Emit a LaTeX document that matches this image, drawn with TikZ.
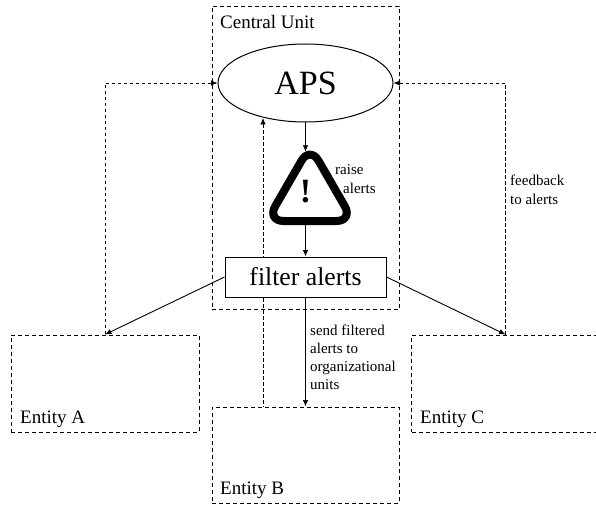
\documentclass[tikz,border=0pt]{standalone}
\usepackage{fontspec}
\setmainfont{Liberation Serif}
\usetikzlibrary{arrows.meta,shapes}

\begin{document}
\begin{tikzpicture}[x=1pt, y=-1pt, >={Latex[length=6.5pt,width=5.5pt]},
main node/.style={draw, line width=1pt, fill=white, inner sep=0pt},
entity node/.style={draw, line width=1pt, dash pattern=on 4pt off 3pt, minimum width=188pt, minimum height=97pt, inner sep=0pt},
name node/.style={inner sep=0pt, anchor=base west, font=\fontsize{19}{19}\selectfont},
note node/.style={inner sep=0pt, anchor=base west, align=left, font=\fontsize{15}{18}\selectfont},
alert edge/.style={->, line width=0.9pt},
back edge/.style={<-, line width=0.8pt, dash pattern=on 3.5pt off 2.5pt}]
\useasboundingbox (0,0) rectangle (596,505);
\node[entity node, minimum height=303pt, minimum width=187pt] (central) at (305.5,158) {};
\node[main node, ellipse, minimum width=175pt, minimum height=78pt, font=\fontsize{34}{34}\selectfont] (aps) at (305.5,83) {APS};
\node[entity node] (entA) at (105,383.5) {};
\node[entity node, minimum width=187pt, minimum height=96pt] (entB) at (305.5,455) {};
\node[entity node] (entC) at (505.5,383.5) {};
\coordinate (apsB) at (263,118);
\coordinate (entBf) at (263,407);
\coordinate (turnA) at (105,83);
\coordinate (turnC) at (505.5,83);
\draw[back edge] (apsB) -- (entBf);
\draw[back edge] (aps.west) -- (turnA) -- (entA.north);
\draw[back edge] (aps.east) -- (turnC) -- (entC.north);
\node[main node, minimum width=161pt, minimum height=40pt, font=\fontsize{25.7}{26}\selectfont] (filter) at (305.5,277) {filter alerts};
% warning sign
\node[inner sep=0pt, minimum width=80pt, minimum height=73pt] (alert) at (305.5,188.5) {};
\draw[line width=8pt, line join=round, rounded corners=17pt] (310,146) -- (353.3,221) -- (266.7,221) -- cycle;
\node[inner sep=0pt, font=\bfseries\fontsize{34}{34}\selectfont] (mark) at (305.5,191.5) {!};
\path
(aps.south) edge[alert edge] (alert.north)
(alert.south) edge[alert edge] (filter.north)
(filter.south) edge[alert edge] (entB.north)
(filter.west) edge[alert edge] (entA.north)
(filter.east) edge[alert edge] (entC.north);
\node[name node] (nameU) at (220,29) {Central Unit};
\node[name node] (nameA) at (20,423) {Entity A};
\node[name node] (nameB) at (220,494) {Entity B};
\node[name node] (nameC) at (420,423) {Entity C};
\node[note node] (raise) at (335,175) {raise};
\node[note node] (alerts) at (343,193) {alerts};
\node[note node] (feedback) at (510,204) {feedback\\to alerts};
\node[note node] (send) at (310,389) {send filtered\\alerts to\\organizational\\units};
\end{tikzpicture}
\end{document}
